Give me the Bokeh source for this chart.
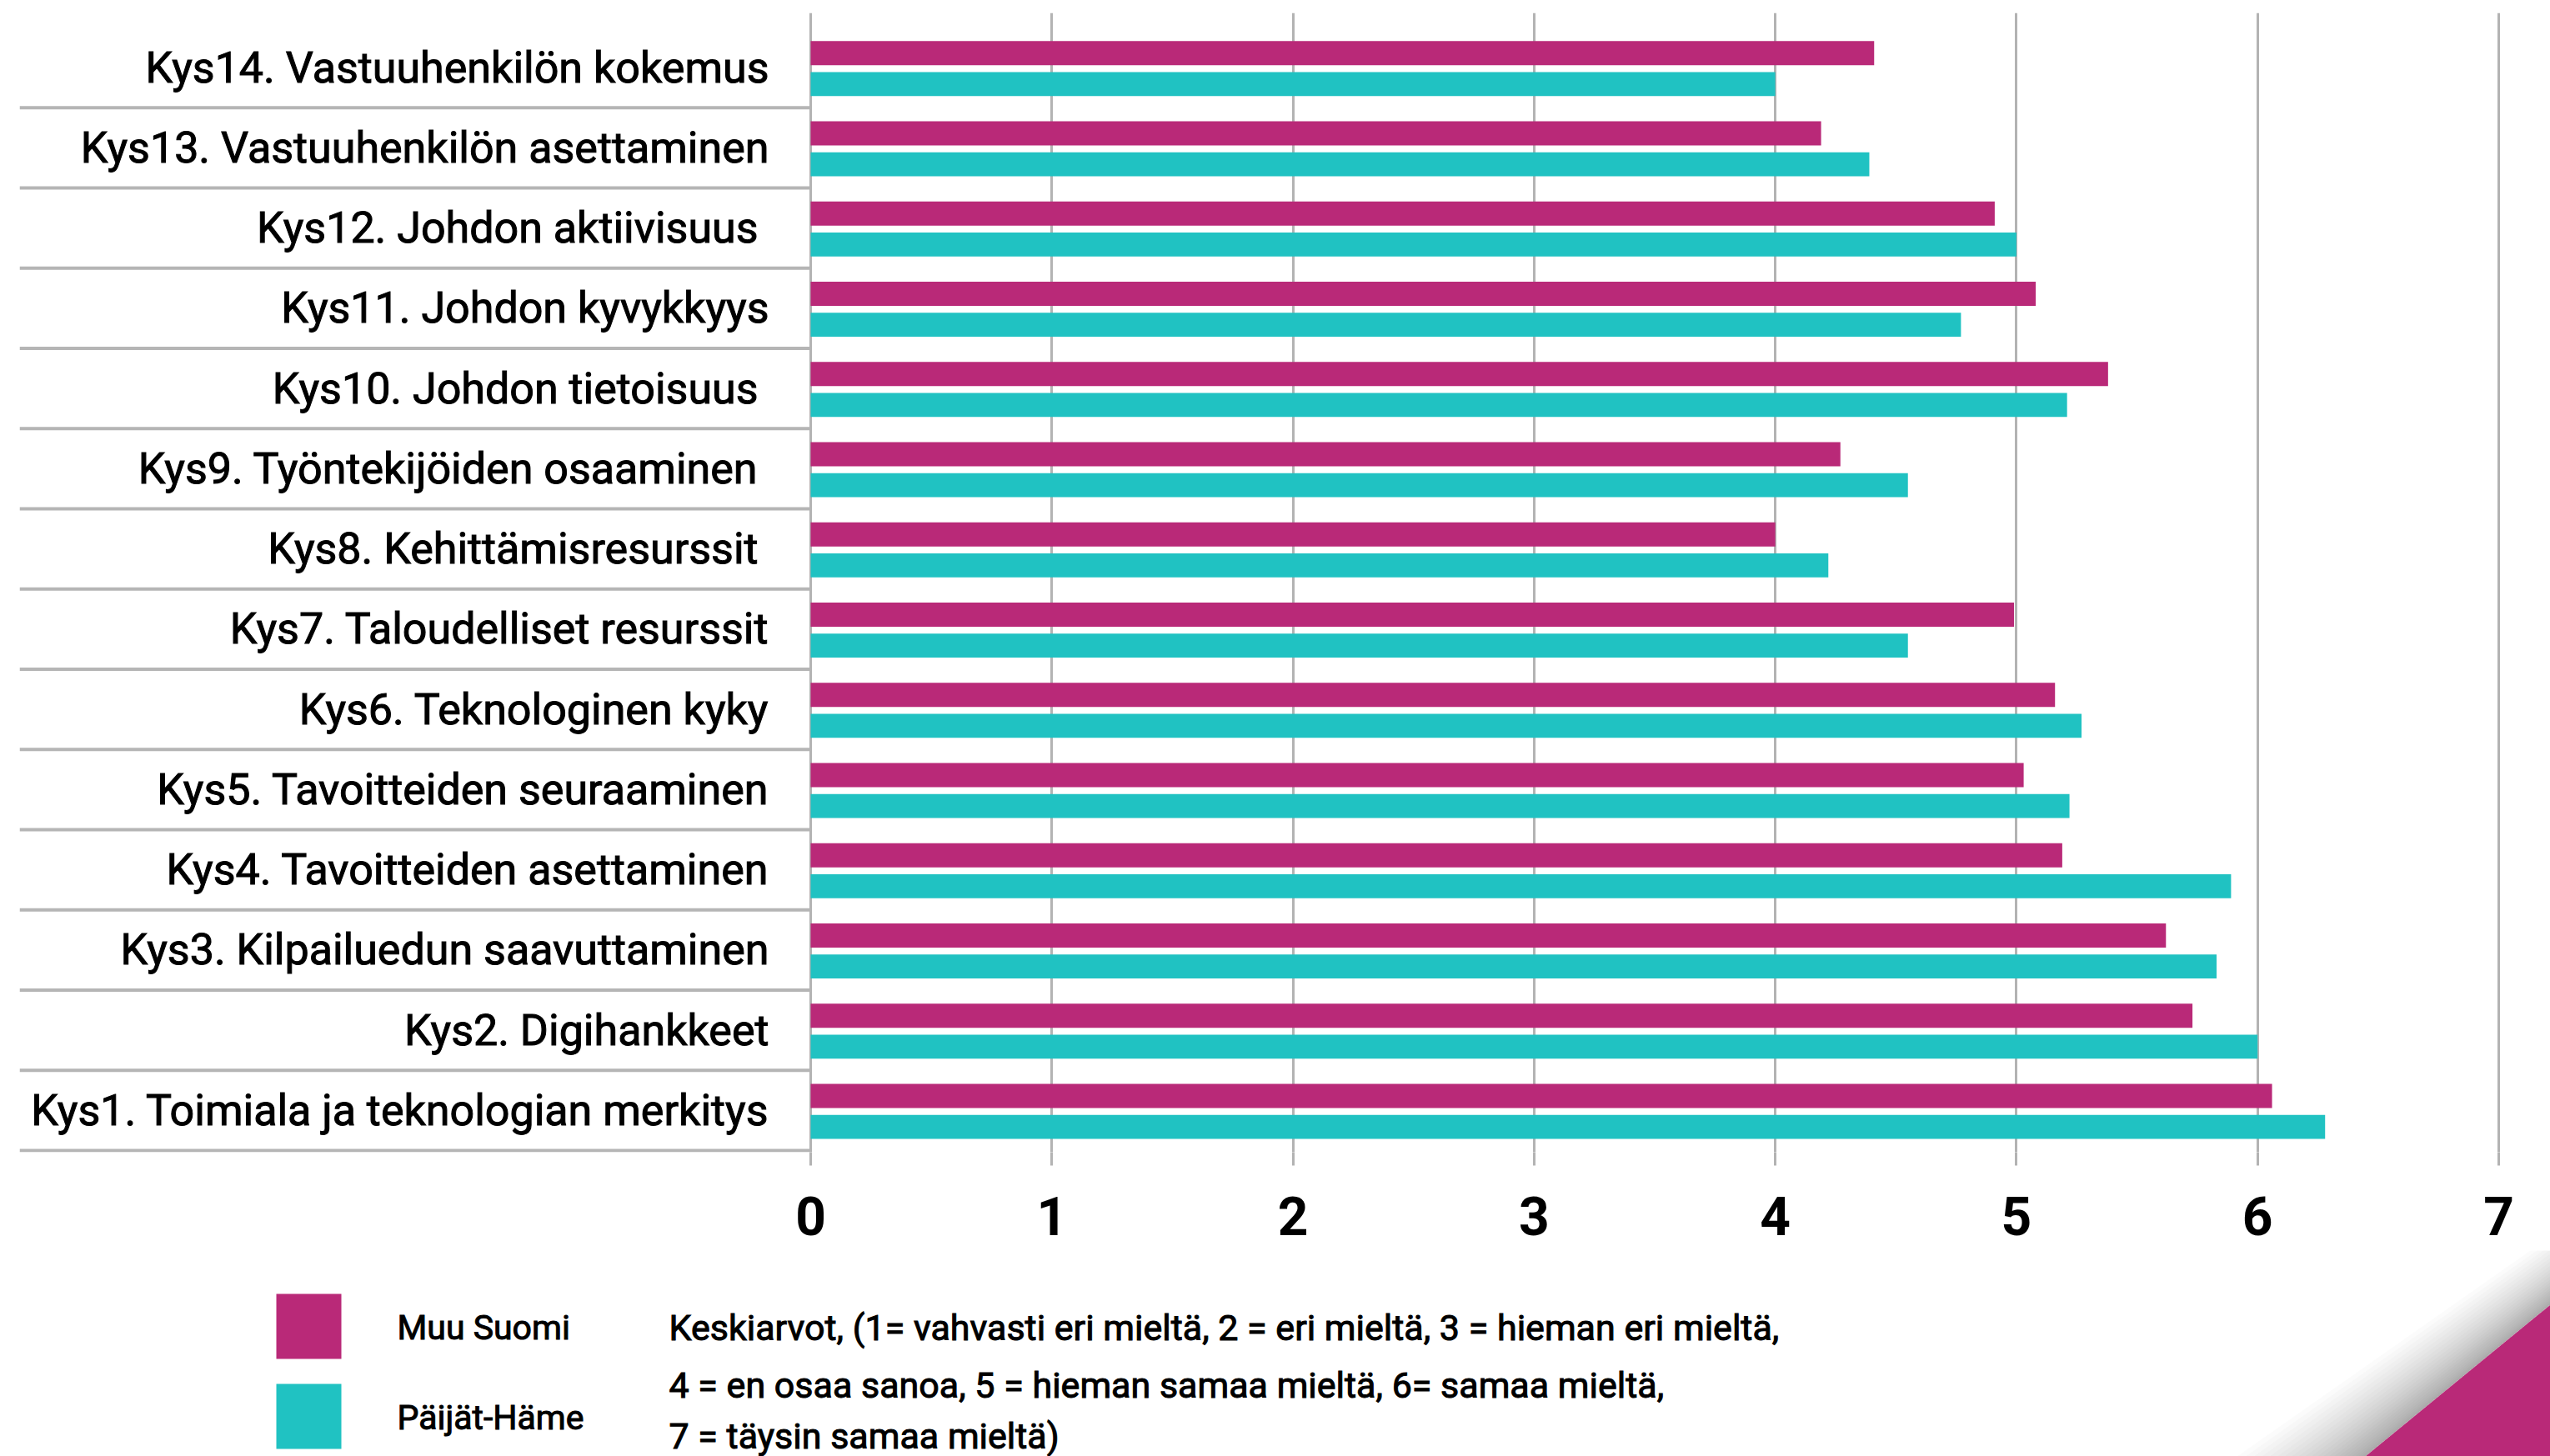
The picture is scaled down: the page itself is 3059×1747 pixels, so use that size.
import numpy as np
from bokeh.plotting import figure
from bokeh.models import ColumnDataSource, Range1d, FixedTicker
from bokeh.layouts import column
from bokeh.transform import dodge
from bokeh.core.properties import value
from bokeh.embed import file_html
from bokeh.resources import INLINE

# ---------------- data (top to bottom as in the chart) ----------------
categories = [
    "Kys14. Vastuuhenkilön kokemus",
    "Kys13. Vastuuhenkilön asettaminen",
    "Kys12. Johdon aktiivisuus\u00a0",
    "Kys11. Johdon kyvykkyys",
    "Kys10. Johdon tietoisuus\u00a0",
    "Kys9. Työntekijöiden osaaminen\u00a0",
    "Kys8. Kehittämisresurssit\u00a0",
    "Kys7. Taloudelliset resurssit",
    "Kys6. Teknologinen kyky",
    "Kys5. Tavoitteiden seuraaminen",
    "Kys4. Tavoitteiden asettaminen",
    "Kys3. Kilpailuedun saavuttaminen",
    "Kys2. Digihankkeet",
    "Kys1. Toimiala ja teknologian merkitys",
]
muu_suomi = [4.41, 4.19, 4.91, 5.08, 5.38, 4.27, 4.00, 4.99, 5.16, 5.03, 5.19, 5.62, 5.73, 6.06]
paijat_hame = [4.00, 4.39, 5.00, 4.77, 5.21, 4.55, 4.22, 4.55, 5.27, 5.22, 5.89, 5.83, 6.00, 6.28]
series_names = ["Muu Suomi", "Päijät-Häme"]
x_ticks = [0, 1, 2, 3, 4, 5, 6, 7]
note_lines = [
    "Keskiarvot, (1= vahvasti eri mieltä, 2 = eri mieltä, 3 = hieman eri mieltä,",
    "4 = en osaa sanoa, 5 = hieman samaa mieltä, 6= samaa mieltä,",
    "7 = täysin samaa mieltä)",
]

# ---------------- styling / layout constants ----------------
MAGENTA = "#B92978"
CYAN = "#20C2C2"
GRID = "#B3B3B3"
W, H_MAIN, H_BOT = 3059, 1500, 247
UNIT = 289.29          # px per value unit
ROW = 96.25            # px per category row
X_START = -(972 - 23) / UNIT
X_END = 7 + 2 / UNIT
Y_START = -2 / ROW
Y_END = (1380 - 15) / ROW
LABEL_X = (922 - 972) / UNIT
FONT = "Roboto"

n = len(categories)
rev = list(reversed(range(n)))
src = ColumnDataSource(dict(
    y=np.arange(n) + 0.5,
    label=[categories[i] for i in rev],
    muu=[muu_suomi[i] for i in rev],
    ph=[paijat_hame[i] for i in rev],
))
sep = ColumnDataSource(dict(y=np.arange(n)))

p = figure(width=W, height=H_MAIN, output_backend="svg", toolbar_location=None,
           x_range=Range1d(X_START, X_END), y_range=Range1d(Y_START, Y_END),
           y_axis_location=None, min_border_left=23, min_border_right=W - 2999,
           min_border_top=15, min_border_bottom=H_MAIN - 1382)
p.frame_align = False
p.outline_line_color = None
p.background_fill_color = "white"
p.border_fill_color = "white"
p.ygrid.visible = False
p.xgrid.ticker = FixedTicker(ticks=x_ticks)
p.xgrid.grid_line_color = GRID
p.xgrid.grid_line_width = 3

ax = p.xaxis[0]
ax.ticker = FixedTicker(ticks=x_ticks)
ax.axis_line_color = None
ax.major_tick_in = 0
ax.major_tick_out = 16
ax.major_tick_line_color = GRID
ax.major_tick_line_width = 3
ax.minor_tick_out = 0
ax.minor_tick_in = 0
ax.major_label_text_font = FONT
ax.major_label_text_font_style = "bold"
ax.major_label_text_font_size = "64px"
ax.major_label_text_color = "black"
ax.major_label_standoff = 37

# category separators (long category ticks)
p.segment(x0=X_START, x1=0, y0="y", y1="y", source=sep, line_color="#B5B5B5", line_width=4)

# bars
p.hbar(y=dodge("y", 0.18, range=p.y_range), left=0, right="muu", height=0.30,
       source=src, fill_color=MAGENTA, line_color=None)
p.hbar(y=dodge("y", -0.205, range=p.y_range), left=0, right="ph", height=0.30,
       source=src, fill_color=CYAN, line_color=None)

# category labels
p.text(x=LABEL_X, y="y", text="label", source=src, text_align="right",
       text_baseline="middle", text_font=value(FONT), text_font_size="52px",
       text_color="black", text_outline_color="black")

# ---------------- bottom strip: legend, note, corner decoration ----------------
b = figure(width=W, height=H_BOT, output_backend="svg", toolbar_location=None,
           x_range=Range1d(0, W), y_range=Range1d(1747, 1500),
           x_axis_location=None, y_axis_location=None,
           min_border=0, min_border_left=0, min_border_right=0,
           min_border_top=0, min_border_bottom=0)
b.frame_align = False
b.outline_line_color = None
b.grid.visible = False
b.background_fill_color = "white"
b.border_fill_color = "white"

b.quad(left=[331, 331], right=[409, 409], top=[1552, 1660], bottom=[1630, 1738],
       fill_color=[MAGENTA, CYAN], line_color=None)
b.text(x=[476, 476], y=[1592, 1700], text=series_names, text_baseline="middle",
       text_font=value(FONT), text_font_size="41px", text_color="black",
       text_outline_color="black")
b.text(x=[802, 802, 802], y=[1592, 1661, 1722], text=note_lines, text_baseline="middle",
       text_font=value(FONT), text_font_size="43px", text_color="black",
       text_outline_color="black")

# page-curl shadow + magenta corner
N = 24
xs, ys = [], []
for k in range(N, 0, -1):
    f = (k / N) ** 1.6
    xs.append([2837, 3059, 3059, 2837 - 154 * f])
    ys.append([1747, 1565, 1565 - 82 * f, 1747])
b.patches(xs=xs, ys=ys, fill_color="black", fill_alpha=0.015, line_color=None)
b.patch(x=[2837, 3059, 3059], y=[1747, 1565, 1747], fill_color=MAGENTA, line_color=None)

layout = column(p, b, spacing=0)
open("out.html", "w").write(file_html(layout, INLINE))
